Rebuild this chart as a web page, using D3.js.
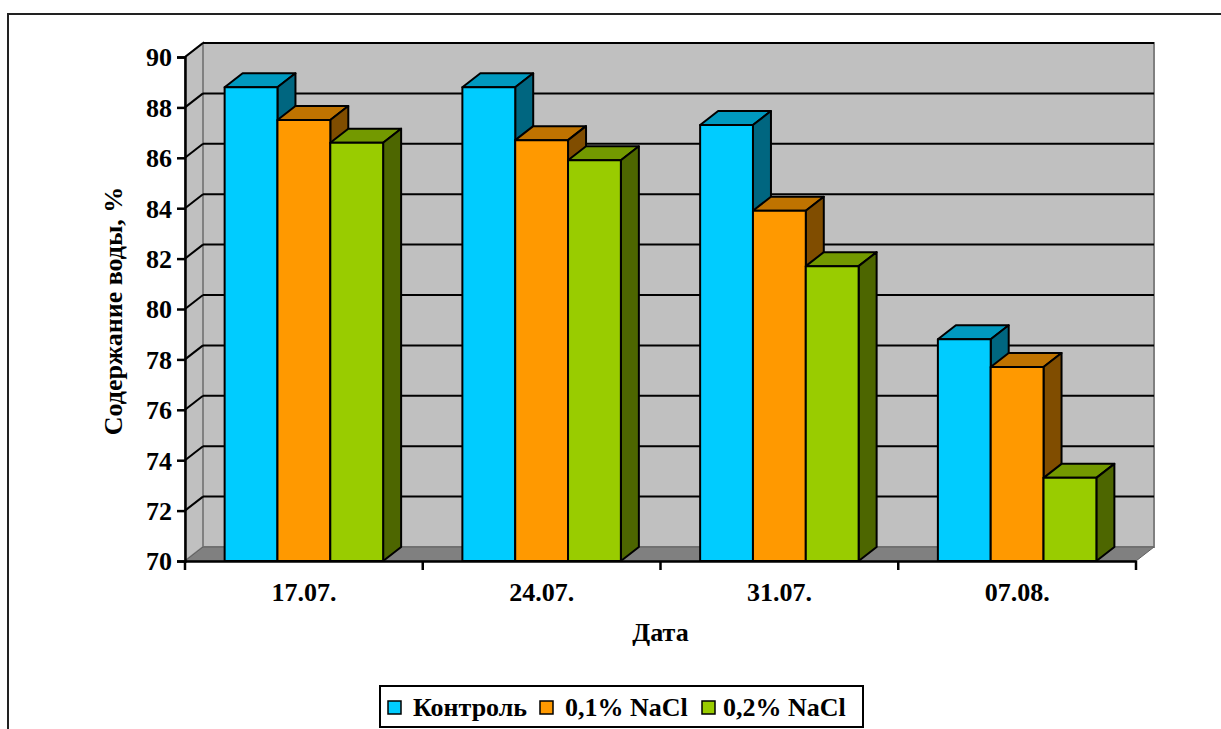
<!DOCTYPE html>
<html>
<head>
<meta charset="utf-8">
<script src="https://cdn.jsdelivr.net/npm/d3@7"></script>
<style>
  html, body { margin: 0; padding: 0; background: #fff; }
  svg { display: block; }
  text { font-family: "Liberation Serif", "Times New Roman", serif; font-weight: bold; fill: #000; }
</style>
</head>
<body>
<svg id="chart" width="1221" height="729"></svg>
<script>
// Dates of sampling
const categories = ["17.07.", "24.07.", "31.07.", "07.08."];
// Series names (legend)
const seriesNames = ["Контроль", "0,1% NaCl", "0,2% NaCl"];
// Water content, %
const control = [88.8, 88.8, 87.3, 78.8];
const nacl01  = [87.5, 86.7, 83.9, 77.7];
const nacl02  = [86.6, 85.9, 81.7, 73.3];
// Value axis ticks
const yTicks = [70, 72, 74, 76, 78, 80, 82, 84, 86, 88, 90];

const seriesValues = [control, nacl01, nacl02];
const colors = [
  { front: "#00CCFF", top: "#0099BF", side: "#006680" },
  { front: "#FF9900", top: "#BF7300", side: "#804D00" },
  { front: "#99CC00", top: "#739900", side: "#4D6600" }
];

const svg = d3.select("#chart");

// Outer chart frame
svg.append("rect")
  .attr("x", 8).attr("y", 14)
  .attr("width", 1400).attr("height", 900)
  .attr("fill", "none").attr("stroke", "#222").attr("stroke-width", 2);

// Plot geometry
const plotLeft = 185, plotRight = 1136, plotTop = 57, plotBottom = 561;
const dx = 18, dy = -14; // depth offset of the 3D box

const y = d3.scaleLinear().domain([70, 90]).range([plotBottom, plotTop]);
const x = d3.scaleBand().domain(categories).range([plotLeft, plotRight]).paddingInner(0).paddingOuter(0);
const xs = d3.scaleBand().domain(seriesNames).range([0, x.bandwidth()]).paddingInner(0).paddingOuter(0.75);

const pts = p => p.map(d => d.join(",")).join(" ");

// Back wall
svg.append("rect")
  .attr("x", plotLeft + dx).attr("y", plotTop + dy)
  .attr("width", plotRight - plotLeft).attr("height", plotBottom - plotTop)
  .attr("fill", "#C0C0C0").attr("stroke", "#808080").attr("stroke-width", 2);

// Side wall
svg.append("polygon")
  .attr("points", pts([[plotLeft, plotTop], [plotLeft + dx, plotTop + dy], [plotLeft + dx, plotBottom + dy], [plotLeft, plotBottom]]))
  .attr("fill", "#C0C0C0").attr("stroke", "#808080").attr("stroke-width", 2);

// Floor
svg.append("polygon")
  .attr("points", pts([[plotLeft, plotBottom], [plotLeft + dx, plotBottom + dy], [plotRight + dx, plotBottom + dy], [plotRight, plotBottom]]))
  .attr("fill", "#808080").attr("stroke", "#606060").attr("stroke-width", 1);

// Gridlines on back wall and side wall
const grid = yTicks.filter(v => v > 70);
svg.append("g").selectAll("line").data(grid).join("line")
  .attr("x1", plotLeft + dx).attr("x2", plotRight + dx)
  .attr("y1", d => y(d) + dy).attr("y2", d => y(d) + dy)
  .attr("stroke", "#000").attr("stroke-width", 2);
svg.append("g").selectAll("line").data(grid).join("line")
  .attr("x1", plotLeft).attr("x2", plotLeft + dx)
  .attr("y1", d => y(d)).attr("y2", d => y(d) + dy)
  .attr("stroke", "#000").attr("stroke-width", 2);

// Bars (drawn left to right so later fronts cover earlier side faces)
const bars = svg.append("g");
categories.forEach((c, ci) => {
  seriesNames.forEach((s, si) => {
    const v = seriesValues[si][ci];
    const x0 = x(c) + xs(s), x1 = x0 + xs.bandwidth();
    const yt = y(v), yb = y(70);
    const col = colors[si];
    const g = bars.append("g").attr("stroke", "#000").attr("stroke-width", 2).attr("stroke-linejoin", "round");
    g.append("polygon")
      .attr("points", pts([[x0, yt], [x0 + dx, yt + dy], [x1 + dx, yt + dy], [x1, yt]]))
      .attr("fill", col.top);
    g.append("polygon")
      .attr("points", pts([[x1, yt], [x1 + dx, yt + dy], [x1 + dx, yb + dy], [x1, yb]]))
      .attr("fill", col.side);
    g.append("rect")
      .attr("x", x0).attr("y", yt).attr("width", x1 - x0).attr("height", yb - yt)
      .attr("fill", col.front);
  });
});

// Value axis
const yAxis = svg.append("g")
  .attr("transform", `translate(${plotLeft},0)`)
  .call(d3.axisLeft(y).tickValues(yTicks).tickSize(8).tickPadding(5).tickFormat(d3.format("d")));
yAxis.select(".domain").attr("stroke", "#000").attr("stroke-width", 2.5);
yAxis.selectAll(".tick line").attr("stroke", "#000").attr("stroke-width", 2.5);
yAxis.selectAll(".tick text")
  .attr("font-family", "Liberation Serif, serif").attr("font-weight", "bold")
  .attr("font-size", 26).attr("fill", "#000").attr("dy", "0.34em");

// Category axis
const xAxis = svg.append("g")
  .attr("transform", `translate(0,${plotBottom})`)
  .call(d3.axisBottom(x).tickSize(0).tickPadding(22));
xAxis.select(".domain").attr("stroke", "#000").attr("stroke-width", 2.5);
xAxis.selectAll(".tick text")
  .attr("font-family", "Liberation Serif, serif").attr("font-weight", "bold")
  .attr("font-size", 26).attr("fill", "#000");
// Category boundary ticks
const bounds = categories.map(c => x(c)).concat([x(categories[categories.length - 1]) + x.bandwidth()]);
svg.append("g").selectAll("line").data(bounds).join("line")
  .attr("x1", d => d).attr("x2", d => d)
  .attr("y1", plotBottom).attr("y2", plotBottom + 9)
  .attr("stroke", "#000").attr("stroke-width", 2.5);

// Axis titles
svg.append("text")
  .attr("x", (plotLeft + plotRight) / 2).attr("y", 641)
  .attr("text-anchor", "middle").attr("font-size", 26)
  .text("Дата");
svg.append("text")
  .attr("transform", `translate(122,311) rotate(-90)`)
  .attr("text-anchor", "middle").attr("font-size", 26)
  .text("Содержание воды, %");

// Legend
const legend = svg.append("g");
legend.append("rect")
  .attr("x", 380).attr("y", 686).attr("width", 483).attr("height", 41)
  .attr("fill", "#fff").attr("stroke", "#000").attr("stroke-width", 2);
const legendX = [388, 540, 702];
const legendTextX = [413, 565, 723];
seriesNames.forEach((s, i) => {
  legend.append("rect")
    .attr("x", legendX[i]).attr("y", 701).attr("width", 13).attr("height", 13)
    .attr("fill", colors[i].front).attr("stroke", "#000").attr("stroke-width", 1.5);
  legend.append("text")
    .attr("x", legendTextX[i]).attr("y", 716)
    .attr("font-size", 26)
    .text(s);
});
</script>
</body>
</html>
